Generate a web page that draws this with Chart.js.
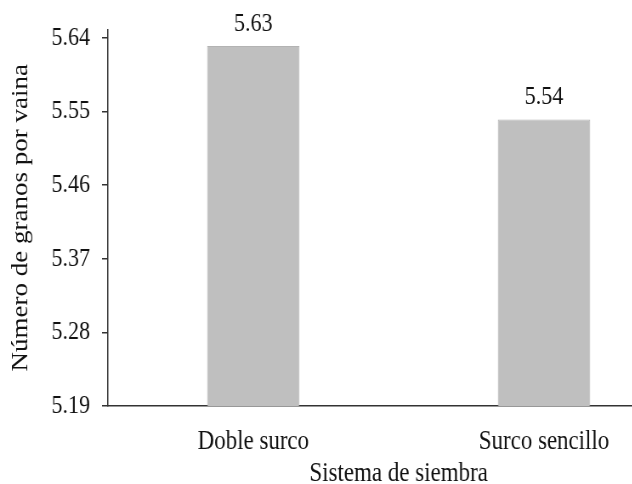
<!DOCTYPE html>
<html>
<head>
<meta charset="utf-8">
<script src="https://cdn.jsdelivr.net/npm/chart.js@4.4.1/dist/chart.umd.min.js"></script>
<style>
  html, body { margin: 0; padding: 0; background: #fff; overflow: hidden; width: 632px; height: 484px; }
  /* the source figure is slightly squeezed horizontally */
  #wrap { width: 820px; height: 490px; transform: scaleX(0.85); transform-origin: 0 0; }
</style>
</head>
<body>
<div id="wrap"><canvas id="chart" width="820" height="490"></canvas></div>
<script>
const categories = ['Doble surco', 'Surco sencillo'];
const granos = [5.63, 5.54];
const yTicks = [5.19, 5.28, 5.37, 5.46, 5.55, 5.64];

const FONT = 'Liberation Serif, Times New Roman, serif';
Chart.defaults.font.family = FONT;
Chart.defaults.color = '#111';

// value labels above each bar
const barLabels = {
  id: 'barLabels',
  afterDatasetsDraw(chart) {
    const ctx = chart.ctx;
    const meta = chart.getDatasetMeta(0);
    ctx.save();
    ctx.font = '26px ' + FONT;
    ctx.fillStyle = '#111';
    ctx.textAlign = 'center';
    ctx.textBaseline = 'bottom';
    meta.data.forEach((bar, i) => {
      ctx.fillText(granos[i].toFixed(2), bar.x, bar.y - 9);
    });
    ctx.restore();
  }
};

new Chart(document.getElementById('chart'), {
  type: 'bar',
  data: {
    labels: categories,
    datasets: [{
      data: granos,
      backgroundColor: '#bfbfbf',
      borderColor: '#b3b3b3',
      borderWidth: 1,
      barPercentage: 1,
      categoryPercentage: 0.318,
    }],
  },
  options: {
    responsive: false,
    animation: false,
    devicePixelRatio: 1,
    layout: { padding: { top: 29, right: 9, left: 0, bottom: 0 } },
    plugins: {
      legend: { display: false },
      tooltip: { enabled: false },
    },
    scales: {
      x: {
        grid: { display: false },
        border: { display: true, color: '#333', width: 1.5 },
        ticks: { font: { size: 27 }, padding: 12, color: '#111' },
        title: { display: true, text: 'Sistema de siembra', font: { size: 27 }, color: '#111', padding: { top: 0, bottom: 0 } },
        afterFit: s => { s.height = 84; },
      },
      y: {
        min: 5.19,
        max: 5.65,
        afterBuildTicks: s => { s.ticks = yTicks.map(v => ({ value: v })); },
        grid: { drawOnChartArea: false, tickLength: 7, color: '#333', lineWidth: 1.5 },
        border: { display: true, color: '#333', width: 1.5 },
        ticks: { font: { size: 26 }, padding: 14, color: '#111', callback: v => v.toFixed(2) },
        title: { display: true, text: 'Número de granos por vaina', font: { size: 27 }, color: '#111', padding: { top: 9, bottom: 4 } },
        afterFit: s => { s.width = 127; },
      },
    },
  },
  plugins: [barLabels],
});
</script>
</body>
</html>
